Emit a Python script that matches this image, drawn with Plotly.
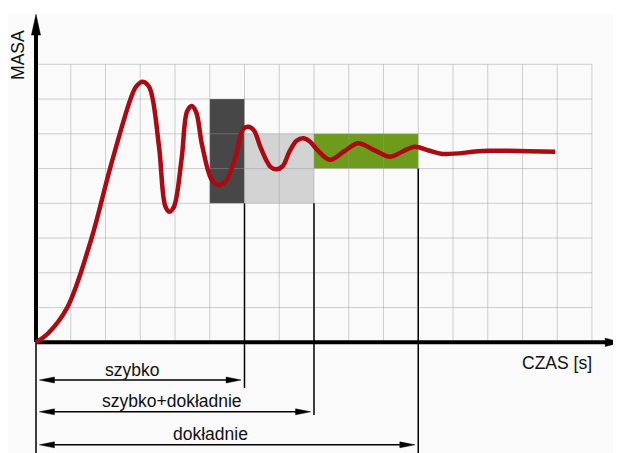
import plotly.graph_objects as go

# ---------------- data ----------------
curve_t = [0, 0.35, 0.90, 1.60, 2.13, 2.72, 2.88, 3.07, 3.26, 3.54, 3.72, 3.84, 3.97,
           4.19, 4.35, 4.48, 4.61, 4.78, 5.07, 5.27, 5.47, 5.75, 5.95, 6.11, 6.27,
           6.47, 6.75, 6.93, 7.10, 7.30, 7.50, 7.69, 7.88, 8.08, 8.46, 8.86, 9.27,
           9.73, 10.19, 10.55, 10.90, 11.30, 11.70, 13.00, 14.94]
curve_m = [0, 0.26, 1.00, 3.00, 5.00, 7.00, 7.36, 7.50, 7.34, 5.63, 3.92, 3.76, 3.90,
           5.28, 6.65, 6.80, 6.62, 5.67, 4.65, 4.53, 4.65, 5.37, 6.12, 6.20, 6.10,
           5.59, 5.05, 4.98, 5.07, 5.50, 5.80, 5.87, 5.78, 5.55, 5.25, 5.49, 5.73,
           5.53, 5.34, 5.49, 5.63, 5.52, 5.42, 5.51, 5.48]

grid_cols = 16
grid_rows = 8

band_x0 = [5, 6, 8]
band_x1 = [6, 8, 11]
band_y0 = [4, 4, 5]
band_y1 = [7, 6, 6]

zone_names = ["szybko", "szybko+dokładnie", "dokładnie"]
zone_end = [6, 8, 11]

x_label = "CZAS [s]"
y_label = "MASA"

# ---------------- style ----------------
band_colors = ["#474747", "#d3d3d3", "#6e9b1b"]
curve_color = "#ad0912"
grid_color = "rgba(150,150,150,0.45)"
FONT = "Liberation Sans, Arial, sans-serif"

W, H = 613, 445
X_RANGE = [-0.8058, 16.835]
Y_RANGE = [-3.1856, 9.620]

arrow_y = [-1.085, -2.0, -2.95]
guide_bottom = [-1.315, -2.09, Y_RANGE[0]]
label_pos = [(2.757, -0.797), (3.928, -1.689), (5.027, -2.639)]

fig = go.Figure()
shapes = []

# background panel
shapes.append(dict(type="rect", xref="paper", yref="paper", x0=0, x1=1, y0=0,
                   y1=1 - 6 / H, fillcolor="#fafafa", line_width=0, layer="below"))

# bands
for x0, x1, y0, y1, c in zip(band_x0, band_x1, band_y0, band_y1, band_colors):
    shapes.append(dict(type="rect", x0=x0, x1=x1, y0=y0, y1=y1, fillcolor=c,
                       line_width=0, layer="below"))

# grid
for i in range(1, grid_cols + 1):
    shapes.append(dict(type="line", x0=i, x1=i, y0=0, y1=grid_rows,
                       line=dict(color=grid_color, width=1), layer="below"))
for j in range(1, grid_rows + 1):
    shapes.append(dict(type="line", x0=0, x1=grid_cols, y0=j, y1=j,
                       line=dict(color=grid_color, width=1), layer="below"))

# guide lines
shapes.append(dict(type="line", x0=0, x1=0, y0=0, y1=Y_RANGE[0],
                   line=dict(color="black", width=1.5), layer="below"))
band_bottom_at = {6: 4, 8: 4, 11: 5}
for xe, yb in zip(zone_end, guide_bottom):
    shapes.append(dict(type="line", x0=xe, x1=xe, y0=band_bottom_at[xe], y1=yb,
                       line=dict(color="black", width=1.5), layer="below"))

# main axes
ytip, xtip = 9.44, 16.83
yhead, xhead = 0.6, 0.45
shapes.append(dict(type="line", x0=0, x1=0, y0=0, y1=ytip - yhead + 0.05,
                   line=dict(color="black", width=4), layer="below"))
shapes.append(dict(type="line", x0=0, x1=xtip - xhead + 0.05, y0=0, y1=0,
                   line=dict(color="black", width=4), layer="below"))


def tri(tipx, tipy, dx, dy, length, half):
    # triangle with tip at (tipx, tipy) pointing along (dx, dy)
    bx, by = tipx - dx * length, tipy - dy * length
    px, py = -dy * half, dx * half
    return [tipx, bx + px, bx - px, tipx], [tipy, by + py, by - py, tipy]


heads = [tri(0, ytip, 0, 1, yhead, 0.13), tri(xtip, 0, 1, 0, xhead, 0.12)]

gap = 0.1
for xe, ya in zip(zone_end, arrow_y):
    xs, xe2 = gap, xe - gap
    shapes.append(dict(type="line", x0=xs + 0.3, x1=xe2 - 0.3, y0=ya, y1=ya,
                       line=dict(color="black", width=1.4), layer="below"))
    heads.append(tri(xs, ya, -1, 0, 0.43, 0.085))
    heads.append(tri(xe2, ya, 1, 0, 0.43, 0.085))

for hx, hy in heads:
    fig.add_trace(go.Scatter(x=hx, y=hy, mode="lines", fill="toself",
                             fillcolor="black", line=dict(color="black", width=0.5),
                             hoverinfo="skip", showlegend=False))

# curve
fig.add_trace(go.Scatter(x=curve_t, y=curve_m, mode="lines",
                         line=dict(color=curve_color, width=4.5, shape="spline",
                                   smoothing=1.0),
                         showlegend=False, hoverinfo="skip"))

annotations = []
for name, (lx, ly) in zip(zone_names, label_pos):
    annotations.append(dict(x=lx, y=ly, text=name, showarrow=False,
                            font=dict(size=17.5, color="#111", family=FONT)))
annotations.append(dict(x=15.007, y=-0.596, text=x_label, showarrow=False,
                        font=dict(size=17.5, color="#111", family=FONT)))
annotations.append(dict(x=-0.52, y=8.267, text=y_label, showarrow=False, textangle=-90,
                        font=dict(size=17.5, color="#111", family=FONT)))

fig.update_layout(
    width=W, height=H, autosize=False,
    margin=dict(l=0, r=0, t=0, b=0),
    paper_bgcolor="white", plot_bgcolor="rgba(0,0,0,0)",
    xaxis=dict(range=X_RANGE, visible=False, fixedrange=True),
    yaxis=dict(range=Y_RANGE, visible=False, fixedrange=True),
    shapes=shapes, annotations=annotations, showlegend=False,
)

fig.write_html("out.html")
